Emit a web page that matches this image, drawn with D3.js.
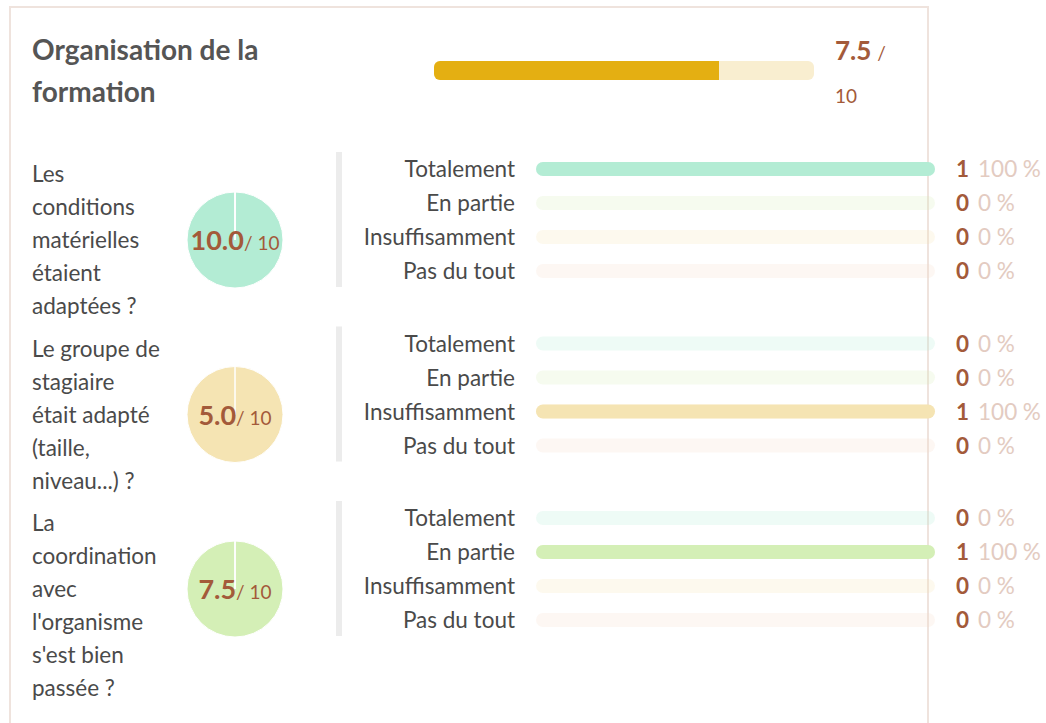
<!DOCTYPE html>
<html lang="fr">
<head>
<meta charset="utf-8">
<script src="https://cdn.jsdelivr.net/npm/d3@7"></script>
<style>
  html, body { margin: 0; padding: 0; background: #fff; }
  svg { display: block; font-family: Lato, "Open Sans", sans-serif; }
</style>
</head>
<body>
<svg id="chart" width="1046" height="723"></svg>
<script>
// Section header
const sectionTitle = ["Organisation de la", "formation"];
const sectionScore = 7.5;
const scoreMax = 10;

// Questions (lines as displayed) and their scores
const questions = [
  ["Les", "conditions", "matérielles", "étaient", "adaptées\u202F?"],
  ["Le groupe de", "stagiaire", "était adapté", "(taille,", "niveau...)\u202F?"],
  ["La", "coordination", "avec", "l'organisme", "s'est bien", "passée\u202F?"]
];
const questionScores = [10.0, 5.0, 7.5];

// Answer categories and number of answers per question
const answers = ["Totalement", "En partie", "Insuffisamment", "Pas du tout"];
const answerColors = ["#b3ecd4", "#d4efb6", "#f5e4b3", "#f7d9c8"];
const counts = [
  [1, 0, 0, 0],
  [0, 0, 1, 0],
  [0, 1, 0, 0]
];

const svg = d3.select("#chart");
const brown = "#a35a3a";
const textCol = "#4a4a4a";
const bodySize = 22.5;

// Card frame
svg.append("rect")
  .attr("x", 10).attr("y", 7)
  .attr("width", 918).attr("height", 740)
  .attr("fill", "none").attr("stroke", "#efe3dd").attr("stroke-width", 2);

// Title
const title = svg.append("text")
  .attr("font-size", 28).attr("font-weight", 700).attr("fill", "#555");
title.selectAll("tspan").data(sectionTitle).join("tspan")
  .attr("x", 32).attr("y", (d, i) => 60 + i * 42).text(d => d);

// Section score bar
const xTop = d3.scaleLinear().domain([0, scoreMax]).range([434, 814]);
svg.append("rect")
  .attr("x", xTop(0)).attr("y", 61)
  .attr("width", xTop(scoreMax) - xTop(0)).attr("height", 19)
  .attr("rx", 6).attr("fill", "#f9eed0");
svg.append("clipPath").attr("id", "topClip").append("rect")
  .attr("x", xTop(0)).attr("y", 61)
  .attr("width", xTop(scoreMax) - xTop(0)).attr("height", 19).attr("rx", 6);
svg.append("rect")
  .attr("clip-path", "url(#topClip)")
  .attr("x", xTop(0)).attr("y", 61)
  .attr("width", xTop(sectionScore) - xTop(0)).attr("height", 19)
  .attr("fill", "#e4af12");

const sc = svg.append("text").attr("x", 835).attr("y", 60).attr("fill", brown);
sc.append("tspan").attr("font-size", 26).attr("font-weight", 700).text(sectionScore.toFixed(1));
sc.append("tspan").attr("font-size", 19).attr("dx", 6).text("/");
svg.append("text").attr("x", 835).attr("y", 103).attr("fill", brown)
  .attr("font-size", 19).text(scoreMax);

// Question blocks
const blockTop = d3.scaleLinear().domain([0, 1]).range([152, 326.5]);
const xBar = d3.scaleLinear().domain([0, 1]).range([536, 935]);
const yRow = d3.scaleBand().domain(answers).range([0, 136]).paddingInner(0);
const pie = d3.pie().sort(null).value(d => d);
const arc = d3.arc().innerRadius(0).outerRadius(48);

questions.forEach((lines, qi) => {
  const y0 = blockTop(qi);
  const g = svg.append("g");
  const total = d3.sum(counts[qi]);

  // question text
  const qt = g.append("text").attr("font-size", bodySize).attr("fill", textCol);
  qt.selectAll("tspan").data(lines).join("tspan")
    .attr("x", 32).attr("y", (d, i) => y0 + 30 + i * 33).text(d => d);

  // pie of answers
  const pg = g.append("g").attr("transform", `translate(235,${y0 + 88})`);
  pg.selectAll("path").data(pie(counts[qi])).join("path")
    .attr("d", arc)
    .attr("fill", (d, i) => answerColors[i])
    .attr("stroke", "#fff").attr("stroke-width", 1);
  const pt = pg.append("text").attr("text-anchor", "middle").attr("y", 10).attr("fill", brown);
  pt.append("tspan").attr("font-size", 27).attr("font-weight", 700)
    .text(questionScores[qi].toFixed(1));
  pt.append("tspan").attr("font-size", 19).text("/ " + scoreMax);

  // divider
  g.append("rect").attr("x", 336).attr("y", y0)
    .attr("width", 6).attr("height", 135).attr("fill", "#ececec");

  // answer rows
  const rows = g.selectAll("g.row").data(answers).join("g")
    .attr("class", "row")
    .attr("transform", d => `translate(0,${y0 + yRow(d) + 17})`);

  rows.append("text")
    .attr("x", 515).attr("y", 8).attr("text-anchor", "end")
    .attr("font-size", bodySize).attr("fill", textCol).text(d => d);

  rows.append("rect")
    .attr("x", xBar(0)).attr("y", -7)
    .attr("width", xBar(1) - xBar(0)).attr("height", 14).attr("rx", 7)
    .attr("fill", (d, i) => answerColors[i]).attr("fill-opacity", 0.22);

  rows.append("rect")
    .attr("x", xBar(0)).attr("y", -7)
    .attr("width", (d, i) => xBar(total ? counts[qi][i] / total : 0) - xBar(0))
    .attr("height", 14).attr("rx", 7)
    .attr("fill", (d, i) => answerColors[i]);

  const vt = rows.append("text").attr("x", 956).attr("y", 8).attr("font-size", bodySize);
  vt.append("tspan").attr("font-weight", 700).attr("fill", brown)
    .text((d, i) => counts[qi][i]);
  vt.append("tspan").attr("dx", 9).attr("fill", "#e3cbc1")
    .text((d, i) => Math.round(total ? counts[qi][i] / total * 100 : 0) + "\u202F%");
});
</script>
</body>
</html>
